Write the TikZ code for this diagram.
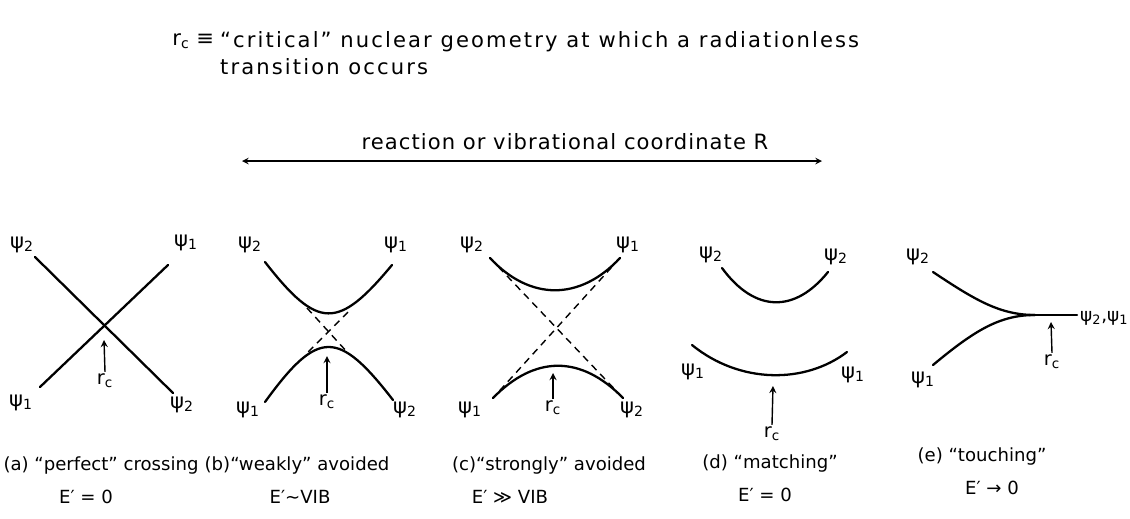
\documentclass[tikz,border=0pt]{standalone}
\usepackage{fontspec}
\setmainfont{DejaVu Sans}
\usepackage{tikz}
\usetikzlibrary{positioning,arrows,calc}
\tikzset{
  >=stealth,
  every node/.style={font=\fontsize{11}{13}\selectfont},
  % --- curves
  pot/.style    = {line width=1.3pt, line cap=round},
  diab/.style   = {line width=0.8pt, dash pattern=on 4pt off 3pt},
  % --- labels
  wide/.style   = {font=\fontsize{12}{15}\selectfont\addfontfeature{LetterSpace=10}},
  axlabel/.style= {font=\fontsize{12}{15}\selectfont\addfontfeature{LetterSpace=5}},
  psi/.style    = {inner sep=1pt, font=\fontsize{12}{14}\selectfont},
  rclbl/.style  = {inner sep=1pt},
  capt/.style   = {inner sep=1pt, font=\fontsize{10.3}{12}\selectfont},
  % --- arrows
  rcarrow/.style= {->, line width=0.8pt},
  axis/.style   = {<->, line width=0.7pt},
}
\newcommand{\wf}[1]{ψ\textsubscript{#1}}
\newcommand{\rcsym}{r\textsubscript{c}}

\begin{document}
\begin{tikzpicture}[x=0.02cm,y=-0.02cm]
  \useasboundingbox (0,0) rectangle (1130,518);

  % --- definition and axis
  \node[anchor=west,inner sep=0pt,font=\fontsize{12}{15}\selectfont] (rcdef) at (172,41) {\rcsym\ ≡};
  \node[wide,anchor=west,align=left] (deftext) at (214,53)
     {“critical” nuclear geometry at which a radiationless\\transition occurs};
  \coordinate (axl) at (242,161);
  \coordinate (axr) at (822,161);
  \draw[axis] (axl) -- (axr);
  \node[axlabel] (axlbl) at (565,142) {reaction or vibrational coordinate R};

  % --- (a) perfect crossing
  \draw[pot] (35,257) -- (173,393);
  \draw[pot] (40,387) -- (168,265);
  \node[psi] (a2t) at (22,245) {\wf2};
  \node[psi] (a1t) at (186,243) {\wf1};
  \node[psi] (a1b) at (21,403) {\wf1};
  \node[psi] (a2b) at (182,405) {\wf2};
  \node[rclbl] (arc) at (105,381) {\rcsym};
  \coordinate (ax) at (104,340);
  \draw[rcarrow] (arc.north) -- (ax);
  \node[capt] (acap) at (101,465) {(a) “perfect” crossing};
  \node[capt] (aen) at (86,497) {E′ = 0};

  % --- (b) weakly avoided
  \draw[pot] (265,262) .. controls (318,330) and (338,330) .. (392,265);
  \draw[pot] (265,402) .. controls (318,329) and (338,329) .. (393,400);
  \draw[diab] (307,308) -- (348,353);
  \draw[diab] (348,312) -- (307,353);
  \node[psi] (b2t) at (250,245) {\wf2};
  \node[psi] (b1t) at (396,245) {\wf1};
  \node[psi] (b1b) at (248,410) {\wf1};
  \node[psi] (b2b) at (405,410) {\wf2};
  \node[rclbl] (brc) at (327,402) {\rcsym};
  \coordinate (bx) at (327,356);
  \draw[rcarrow] (brc.north) -- (bx);
  \node[capt] (bcap) at (297,465) {(b)“weakly” avoided};
  \node[capt] (ben) at (300,497) {E′∼VIB};

  % --- (c) strongly avoided
  \draw[pot] (490,258) .. controls (530,301) and (580,301) .. (620,258);
  \draw[pot] (493,398) .. controls (535,355) and (581,355) .. (623,398);
  \draw[diab] (490,258) -- (623,398);
  \draw[diab] (620,258) -- (493,398);
  \node[psi] (c2t) at (472,245) {\wf2};
  \node[psi] (c1t) at (628,245) {\wf1};
  \node[psi] (c1b) at (470,410) {\wf1};
  \node[psi] (c2b) at (632,410) {\wf2};
  \node[rclbl] (crc) at (553,408) {\rcsym};
  \coordinate (cx) at (553,373);
  \draw[rcarrow] (crc.north) -- (cx);
  \node[capt] (ccap) at (549,465) {(c)“strongly” avoided};
  \node[capt] (cen) at (510,497) {E′ ≫ VIB};

  % --- (d) matching
  \draw[pot] (722,268) .. controls (755,313) and (795,313) .. (828,272);
  \draw[pot] (692,345) .. controls (740,384) and (805,384) .. (847,352);
  \node[psi] (d2l) at (711,255) {\wf2};
  \node[psi] (d2r) at (836,257) {\wf2};
  \node[psi] (d1l) at (693,372) {\wf1};
  \node[psi] (d1r) at (853,375) {\wf1};
  \node[rclbl] (drc) at (772,434) {\rcsym};
  \coordinate (dx) at (773,386);
  \draw[rcarrow] (drc.north) -- (dx);
  \node[capt] (dcap) at (770,463) {(d) “matching”};
  \node[capt] (den) at (765,495) {E′ = 0};

  % --- (e) touching
  \coordinate (et) at (1035,315);
  \draw[pot] (933,272) .. controls (975,300) and (1000,315) .. (et);
  \draw[pot] (933,365) .. controls (975,330) and (1000,315) .. (et);
  \draw[pot] (et) -- (1077,315);
  \node[psi,anchor=west,font=\fontsize{10.5}{12}\selectfont] (e21) at (1078,318) {\wf2,\wf1};
  \node[psi] (e2) at (918,257) {\wf2};
  \node[psi] (e1) at (923,380) {\wf1};
  \node[rclbl] (erc) at (1052,362) {\rcsym};
  \coordinate (ex) at (1051,322);
  \draw[rcarrow] (erc.north) -- (ex);
  \node[capt] (ecap) at (982,457) {(e) “touching”};
  \node[capt] (een) at (992,488) {E′ → 0};
\end{tikzpicture}
\end{document}
